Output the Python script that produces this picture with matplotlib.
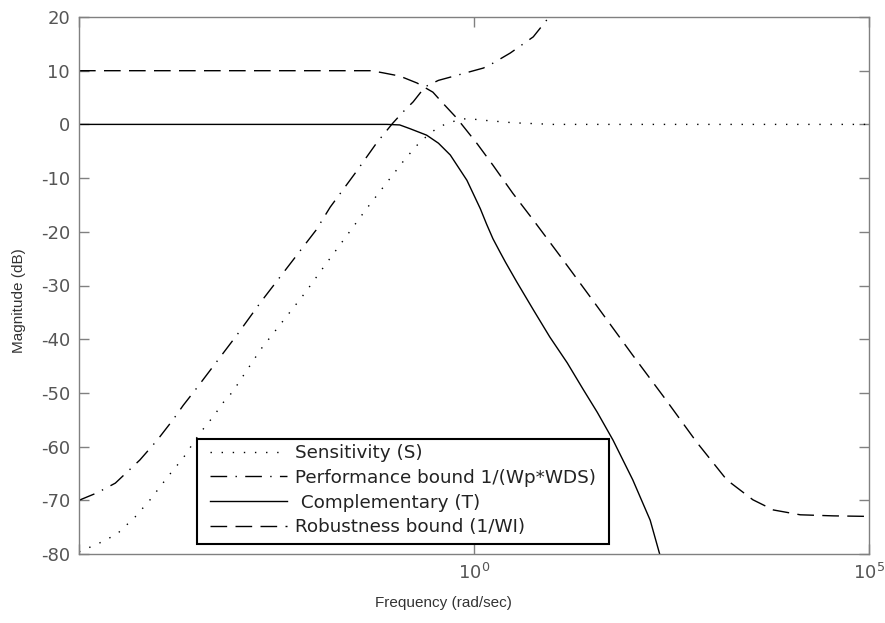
import numpy as np
import matplotlib
matplotlib.use("Agg")
import matplotlib.pyplot as plt
from matplotlib.ticker import NullLocator
from matplotlib.patches import Rectangle

plt.rcParams['font.family'] = ['Liberation Sans', 'DejaVu Sans']
plt.rcParams['mathtext.fontset'] = 'dejavusans'
plt.rcParams['axes.unicode_minus'] = False

# ---- data (log10 of frequency, magnitude in dB) ----
sens_logw = [-5.0, -4.76, -4.52, -4.29, -4.10, -3.87, -3.68, -3.47, -3.30, -3.15,
             -3.06, -2.70, -2.30, -2.14, -1.90, -1.36, -0.87, -0.68, -0.47, -0.34,
             -0.18, -0.08, 0.10, 0.50, 1.0, 5.0]
sens_db = [-79.6, -78.1, -76.3, -73.1, -69.9, -65.5, -62.1, -57.5, -54.4, -51.3,
           -49.9, -41.9, -34.4, -31.4, -26.5, -15.7, -6.4, -3.2, -0.7, 0.2,
           0.9, 1.1, 0.8, 0.3, 0.0, 0.0]

perf_logw = [-5.0, -4.77, -4.54, -4.23, -4.01, -3.81, -3.68, -3.51, -3.0, -2.70,
             -2.0, -1.82, -1.5, -1.23, -1.03, -0.90, -0.77, -0.62, -0.45, -0.30,
             0.12, 0.24, 0.46, 0.75, 0.94, 1.0]
perf_db = [-70.0, -68.6, -66.8, -62.5, -58.8, -55.0, -52.3, -49.1, -39.2, -33.1,
           -19.7, -15.4, -9.0, -3.4, 0.2, 2.3, 4.2, 7.0, 8.2, 8.8,
           10.5, 11.4, 13.3, 16.3, 19.8, 21.0]

comp_logw = [-5.0, -1.1, -0.94, -0.81, -0.60, -0.45, -0.30, -0.09, 0.08, 0.16,
             0.24, 0.33, 0.40, 0.54, 0.75, 0.96, 1.18, 1.38, 1.56, 1.76, 2.01,
             2.23, 2.35, 2.45]
comp_db = [0.0, 0.0, -0.1, -0.8, -2.0, -3.5, -5.7, -10.4, -15.7, -18.6,
           -21.3, -23.8, -25.7, -29.3, -34.5, -39.6, -44.4, -49.3, -53.6, -58.8, -66.2,
           -73.7, -80.0, -84.0]

rob_logw = [-5.0, -1.3, -1.15, -0.94, -0.72, -0.52, -0.41, -0.22, 0.04, 0.24,
            0.49, 0.75, 1.09, 1.51, 2.01, 2.42, 2.82, 3.20, 3.53, 3.79, 4.13, 4.55, 5.0]
rob_db = [10.0, 10.0, 9.6, 9.0, 7.7, 6.0, 4.2, 1.2, -3.6, -7.6,
          -12.8, -17.8, -24.5, -32.9, -43.0, -51.1, -59.2, -66.2, -69.9, -71.8, -72.7, -72.9, -73.0]

labels = ["Sensitivity (S)", "Performance bound 1/(Wp*WDS)", " Complementary (T)", "Robustness bound (1/WI)"]
yticks = [-80, -70, -60, -50, -40, -30, -20, -10, 0, 10, 20]
xticks = [1e-5, 1e0, 1e5]
xticklabels = ["", r"$10^{0}$", r"$10^{5}$"]

fig = plt.figure(figsize=(8.85, 6.23), dpi=100)
ax = fig.add_axes([79/885, 1 - 554/623, 790/885, 537/623])

lw = 1.0
ax.plot(10**np.array(sens_logw), sens_db, color='black', lw=lw, linestyle=(0, (1, 7)), label=labels[0])
ax.plot(10**np.array(perf_logw), perf_db, color='black', lw=lw, linestyle=(0, (12, 6, 1, 6)), label=labels[1])
ax.plot(10**np.array(comp_logw), comp_db, color='black', lw=lw, linestyle='-', label=labels[2])
ax.plot(10**np.array(rob_logw), rob_db, color='black', lw=lw, linestyle=(0, (12, 6)), label=labels[3])

ax.set_xscale('log')
ax.set_xlim(1e-5, 1e5)
ax.set_ylim(-80, 20)
ax.set_xticks(xticks)
ax.set_xticklabels(xticklabels)
ax.xaxis.set_minor_locator(NullLocator())
ax.set_yticks(yticks)

grey = '#808080'
for s in ax.spines.values():
    s.set_color(grey)
    s.set_linewidth(1.0)
ax.tick_params(direction='in', top=True, right=True, length=7, width=1.0,
               color=grey, labelcolor='#555555', labelsize=13, pad=6.5)
for lab in ax.get_xticklabels() + ax.get_yticklabels():
    lab.set_family('DejaVu Sans')

ax.set_xlabel("Frequency (rad/sec)", fontsize=11, color='#333333')
ax.set_ylabel("Magnitude (dB)", fontsize=11, color='#333333')
ax.xaxis.set_label_coords((443 - 79) / 790, (554 - 596) / 537)
ax.yaxis.set_label_coords((19 - 79) / 790, (554 - 301) / 537)
ax.yaxis.label.set_va('center')

# legend frame box
box = Rectangle(((197 - 79) / 790, (554 - 544) / 537), 412 / 790, 105 / 537,
                transform=ax.transAxes, facecolor='white', edgecolor='black',
                linewidth=1.5, zorder=4)
ax.add_patch(box)
leg = ax.legend(loc='upper left', bbox_to_anchor=((210 - 79) / 790, (554 - 444) / 537),
                borderaxespad=0, frameon=False,
                prop={'family': 'DejaVu Sans', 'size': 13.2}, handlelength=4.2,
                handletextpad=0.45, labelspacing=0.37, borderpad=0)
leg.set_zorder(5)
for t in leg.get_texts():
    t.set_color('#222222')

fig.savefig("out.png", dpi=100)
